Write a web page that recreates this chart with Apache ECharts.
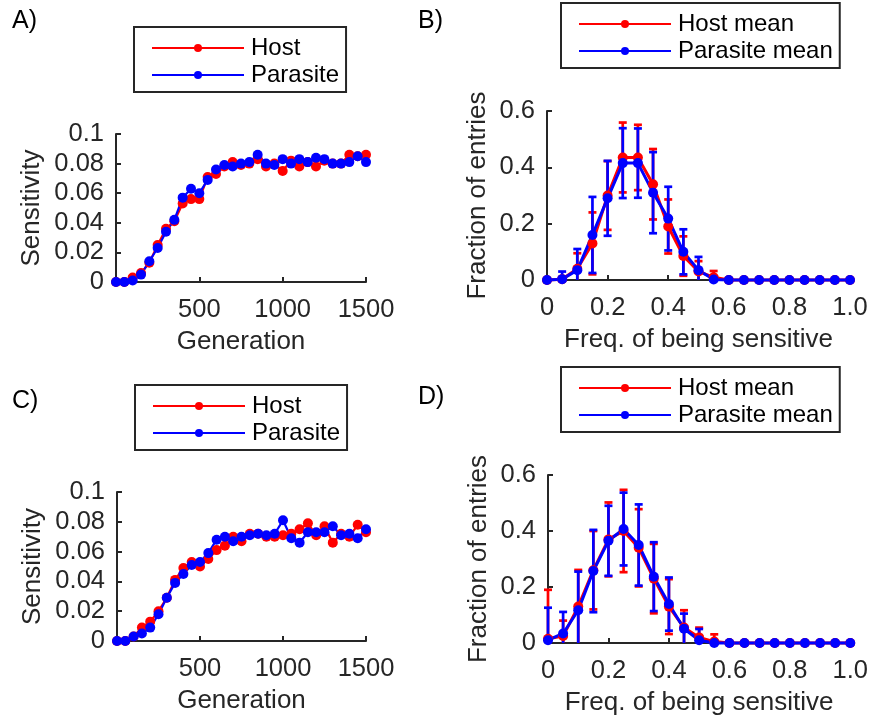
<!DOCTYPE html>
<html>
<head>
<meta charset="utf-8">
<script src="https://cdn.jsdelivr.net/npm/echarts@6.0.0/dist/echarts.min.js"></script>
<style>
  html, body { margin: 0; padding: 0; background: #fff; }
  #chart { width: 871px; height: 719px; }
</style>
</head>
<body>
<div id="chart"></div>
<script>
// Generations sampled in panels A and C
const generations = [0, 50, 100, 150, 200, 250, 300, 350, 400, 450, 500, 550, 600, 650, 700, 750,
  800, 850, 900, 950, 1000, 1050, 1100, 1150, 1200, 1250, 1300, 1350, 1400, 1450, 1500];

// Panel A: mean sensitivity over time
const hostA = [0, 0, 0.003, 0.006, 0.013, 0.025, 0.036, 0.041, 0.053, 0.056, 0.056, 0.071, 0.073, 0.078, 0.081, 0.079,
  0.080, 0.083, 0.078, 0.080, 0.075, 0.082, 0.078, 0.081, 0.078, 0.082, 0.080, 0.080, 0.086, 0.085, 0.086];
const parasiteA = [0, 0, 0.001, 0.005, 0.014, 0.023, 0.034, 0.042, 0.057, 0.063, 0.060, 0.069, 0.076, 0.079, 0.078, 0.080,
  0.081, 0.086, 0.080, 0.079, 0.083, 0.080, 0.083, 0.081, 0.084, 0.083, 0.080, 0.080, 0.081, 0.085, 0.081];

// Panel C: mean sensitivity over time
const hostC = [0, 0, 0.003, 0.009, 0.013, 0.020, 0.029, 0.041, 0.049, 0.053, 0.050, 0.055, 0.061, 0.064, 0.070, 0.067,
  0.072, 0.072, 0.070, 0.070, 0.071, 0.072, 0.075, 0.079, 0.071, 0.077, 0.066, 0.072, 0.070, 0.078, 0.073];
const parasiteC = [0, 0, 0.003, 0.005, 0.009, 0.018, 0.029, 0.039, 0.045, 0.051, 0.053, 0.059, 0.068, 0.070, 0.067, 0.070,
  0.071, 0.072, 0.071, 0.072, 0.081, 0.069, 0.066, 0.073, 0.073, 0.073, 0.077, 0.071, 0.072, 0.069, 0.075];

// Frequency bins for panels B and D
const freqBins = [0, 0.05, 0.1, 0.15, 0.2, 0.25, 0.3, 0.35, 0.4, 0.45, 0.5,
  0.55, 0.6, 0.65, 0.7, 0.75, 0.8, 0.85, 0.9, 0.95, 1.0];

// Panel B: histogram means and standard deviations
const hostB = [0, 0.003, 0.04, 0.13, 0.30, 0.435, 0.435, 0.34, 0.19, 0.085, 0.03, 0.01, 0, 0, 0, 0, 0, 0, 0, 0, 0];
const hostBErr = [0, 0.005, 0.055, 0.11, 0.122, 0.124, 0.116, 0.125, 0.096, 0.07, 0.037, 0.022, 0, 0, 0, 0, 0, 0, 0, 0, 0];
const parasiteB = [0, 0.003, 0.035, 0.16, 0.29, 0.415, 0.415, 0.31, 0.218, 0.10, 0.035, 0.002, 0, 0, 0, 0, 0, 0, 0, 0, 0];
const parasiteBErr = [0, 0.027, 0.075, 0.135, 0.133, 0.124, 0.123, 0.144, 0.113, 0.08, 0.047, 0, 0, 0, 0, 0, 0, 0, 0, 0, 0];

// Panel D: histogram means and standard deviations
const hostD = [0.015, 0.025, 0.13, 0.26, 0.37, 0.40, 0.34, 0.23, 0.13, 0.055, 0.02, 0.005, 0, 0, 0, 0, 0, 0, 0, 0, 0];
const hostDErr = [0.175, 0.055, 0.131, 0.14, 0.132, 0.147, 0.138, 0.124, 0.098, 0.062, 0.035, 0.026, 0, 0, 0, 0, 0, 0, 0, 0, 0];
const parasiteD = [0.01, 0.034, 0.117, 0.257, 0.365, 0.407, 0.35, 0.237, 0.139, 0.051, 0.01, 0, 0, 0, 0, 0, 0, 0, 0, 0, 0];
const parasiteDErr = [0.116, 0.077, 0.138, 0.147, 0.125, 0.13, 0.145, 0.123, 0.095, 0.054, 0.04, 0, 0, 0, 0, 0, 0, 0, 0, 0, 0];

// Tick labels
const sensitivityTicks = ['0', '0.02', '0.04', '0.06', '0.08', '0.1'];
const generationTicks = ['', '500', '1000', '1500'];
const fractionTicks = ['0', '0.2', '0.4', '0.6'];
const freqTicks = ['0', '0.2', '0.4', '0.6', '0.8', '1.0'];

const RED = '#ff0000';
const BLUE = '#0000ff';
const AXIS = '#262626';
const FONT = '"Liberation Sans", Arial, Helvetica, sans-serif';

const chart = echarts.init(document.getElementById('chart'), null, { renderer: 'canvas' });

const grids = [
  { left: 116, top: 134, width: 250, height: 148 },   // A
  { left: 547, top: 111, width: 303, height: 169 },   // B
  { left: 117, top: 492, width: 249, height: 149 },   // C
  { left: 548, top: 475, width: 303, height: 168 }    // D
];

function tickLookup(labels, step) {
  return function (v) {
    const i = Math.round(v / step);
    return labels[i] !== undefined ? labels[i] : '';
  };
}

function baseAxis(gridIndex, min, max, interval, labels, name, isY) {
  return {
    type: 'value',
    gridIndex: gridIndex,
    min: min, max: max, interval: interval,
    name: name,
    nameLocation: 'middle',
    nameGap: isY ? 68 : 47,
    nameTextStyle: { fontFamily: FONT, fontSize: 26, color: AXIS },
    axisLine: { show: true, lineStyle: { color: AXIS, width: 2 } },
    axisTick: { show: true, inside: true, length: 5, lineStyle: { color: AXIS, width: 2 } },
    axisLabel: {
      fontFamily: FONT, fontSize: 25.5, color: AXIS, margin: isY ? 12 : 15,
      formatter: tickLookup(labels, interval)
    },
    splitLine: { show: false }
  };
}

const xAxes = [
  baseAxis(0, 0, 1500, 500, generationTicks, 'Generation', false),
  baseAxis(1, 0, 1, 0.2, freqTicks, 'Freq. of being sensitive', false),
  baseAxis(2, 0, 1500, 500, generationTicks, 'Generation', false),
  baseAxis(3, 0, 1, 0.2, freqTicks, 'Freq. of being sensitive', false)
];
const yAxes = [
  baseAxis(0, 0, 0.1, 0.02, sensitivityTicks, 'Sensitivity', true),
  baseAxis(1, 0, 0.6, 0.2, fractionTicks, 'Fraction of entries', true),
  baseAxis(2, 0, 0.1, 0.02, sensitivityTicks, 'Sensitivity', true),
  baseAxis(3, 0, 0.6, 0.2, fractionTicks, 'Fraction of entries', true)
];
yAxes[0].nameGap = 71; yAxes[2].nameGap = 71;
yAxes[1].nameGap = 56; yAxes[3].nameGap = 56;

function zip(xs, ys) { return xs.map((x, i) => [x, ys[i]]); }

function lineSeries(name, idx, xs, ys, color, width, size) {
  return {
    type: 'line', name: name,
    xAxisIndex: idx, yAxisIndex: idx,
    data: zip(xs, ys),
    symbol: 'circle', symbolSize: size, showSymbol: true,
    lineStyle: { color: color, width: width },
    itemStyle: { color: color },
    emphasis: { disabled: true },
    animation: false, clip: false
  };
}

// Vertical error bars with caps; the part below the axis floor is cut off
function errorSeries(name, idx, xs, ys, errs, color) {
  const data = [];
  xs.forEach((x, i) => { if (errs[i] > 0) data.push([x, ys[i] - errs[i], ys[i] + errs[i]]); });
  return {
    type: 'custom', name: name,
    xAxisIndex: idx, yAxisIndex: idx,
    data: data,
    animation: false,
    renderItem: function (params, api) {
      const x = api.value(0), lo = api.value(1), hi = api.value(2);
      const top = api.coord([x, hi]);
      const bot = api.coord([x, Math.max(lo, 0)]);
      const half = 4;
      const st = { stroke: color, lineWidth: 2.7 };
      const children = [
        { type: 'line', shape: { x1: top[0], y1: top[1], x2: bot[0], y2: bot[1] }, style: st },
        { type: 'line', shape: { x1: top[0] - half, y1: top[1], x2: top[0] + half, y2: top[1] }, style: st }
      ];
      if (lo >= 0) {
        children.push({ type: 'line', shape: { x1: bot[0] - half, y1: bot[1], x2: bot[0] + half, y2: bot[1] }, style: st });
      }
      return { type: 'group', children: children };
    }
  };
}

const series = [
  lineSeries('Host', 0, generations, hostA, RED, 2.2, 10),
  lineSeries('Parasite', 0, generations, parasiteA, BLUE, 2.2, 10),
  errorSeries('Host mean sd', 1, freqBins, hostB, hostBErr, RED),
  lineSeries('Host mean', 1, freqBins, hostB, RED, 3, 10),
  errorSeries('Parasite mean sd', 1, freqBins, parasiteB, parasiteBErr, BLUE),
  lineSeries('Parasite mean', 1, freqBins, parasiteB, BLUE, 3, 10),
  lineSeries('Host', 2, generations, hostC, RED, 2.2, 10),
  lineSeries('Parasite', 2, generations, parasiteC, BLUE, 2.2, 10),
  errorSeries('Host mean sd', 3, freqBins, hostD, hostDErr, RED),
  lineSeries('Host mean', 3, freqBins, hostD, RED, 3, 10),
  errorSeries('Parasite mean sd', 3, freqBins, parasiteD, parasiteDErr, BLUE),
  lineSeries('Parasite mean', 3, freqBins, parasiteD, BLUE, 3, 10)
];

function legendBox(names, left, top) {
  return {
    data: names,
    orient: 'vertical',
    left: left, top: top,
    padding: [9, 7, 5, 17],
    itemGap: 3,
    itemWidth: 92, itemHeight: 10,
    borderColor: AXIS, borderWidth: 2,
    selectedMode: false,
    textStyle: { fontFamily: FONT, fontSize: 24, color: '#000', padding: [0, 0, 0, 2] }
  };
}

const panelLabel = (text, left, top) => ({
  text: text, left: left, top: top, padding: 0,
  textStyle: { fontFamily: FONT, fontSize: 25, fontWeight: 'normal', color: '#000' }
});

chart.setOption({
  backgroundColor: '#fff',
  animation: false,
  title: [
    panelLabel('A)', 12, 9),
    panelLabel('B)', 418, 9),
    panelLabel('C)', 12, 389),
    panelLabel('D)', 418, 385)
  ],
  legend: [
    legendBox(['Host', 'Parasite'], 134, 27),
    legendBox(['Host mean', 'Parasite mean'], 561, 3),
    legendBox(['Host', 'Parasite'], 135, 385),
    legendBox(['Host mean', 'Parasite mean'], 561, 367)
  ],
  grid: grids,
  xAxis: xAxes,
  yAxis: yAxes,
  series: series
});
</script>
</body>
</html>
